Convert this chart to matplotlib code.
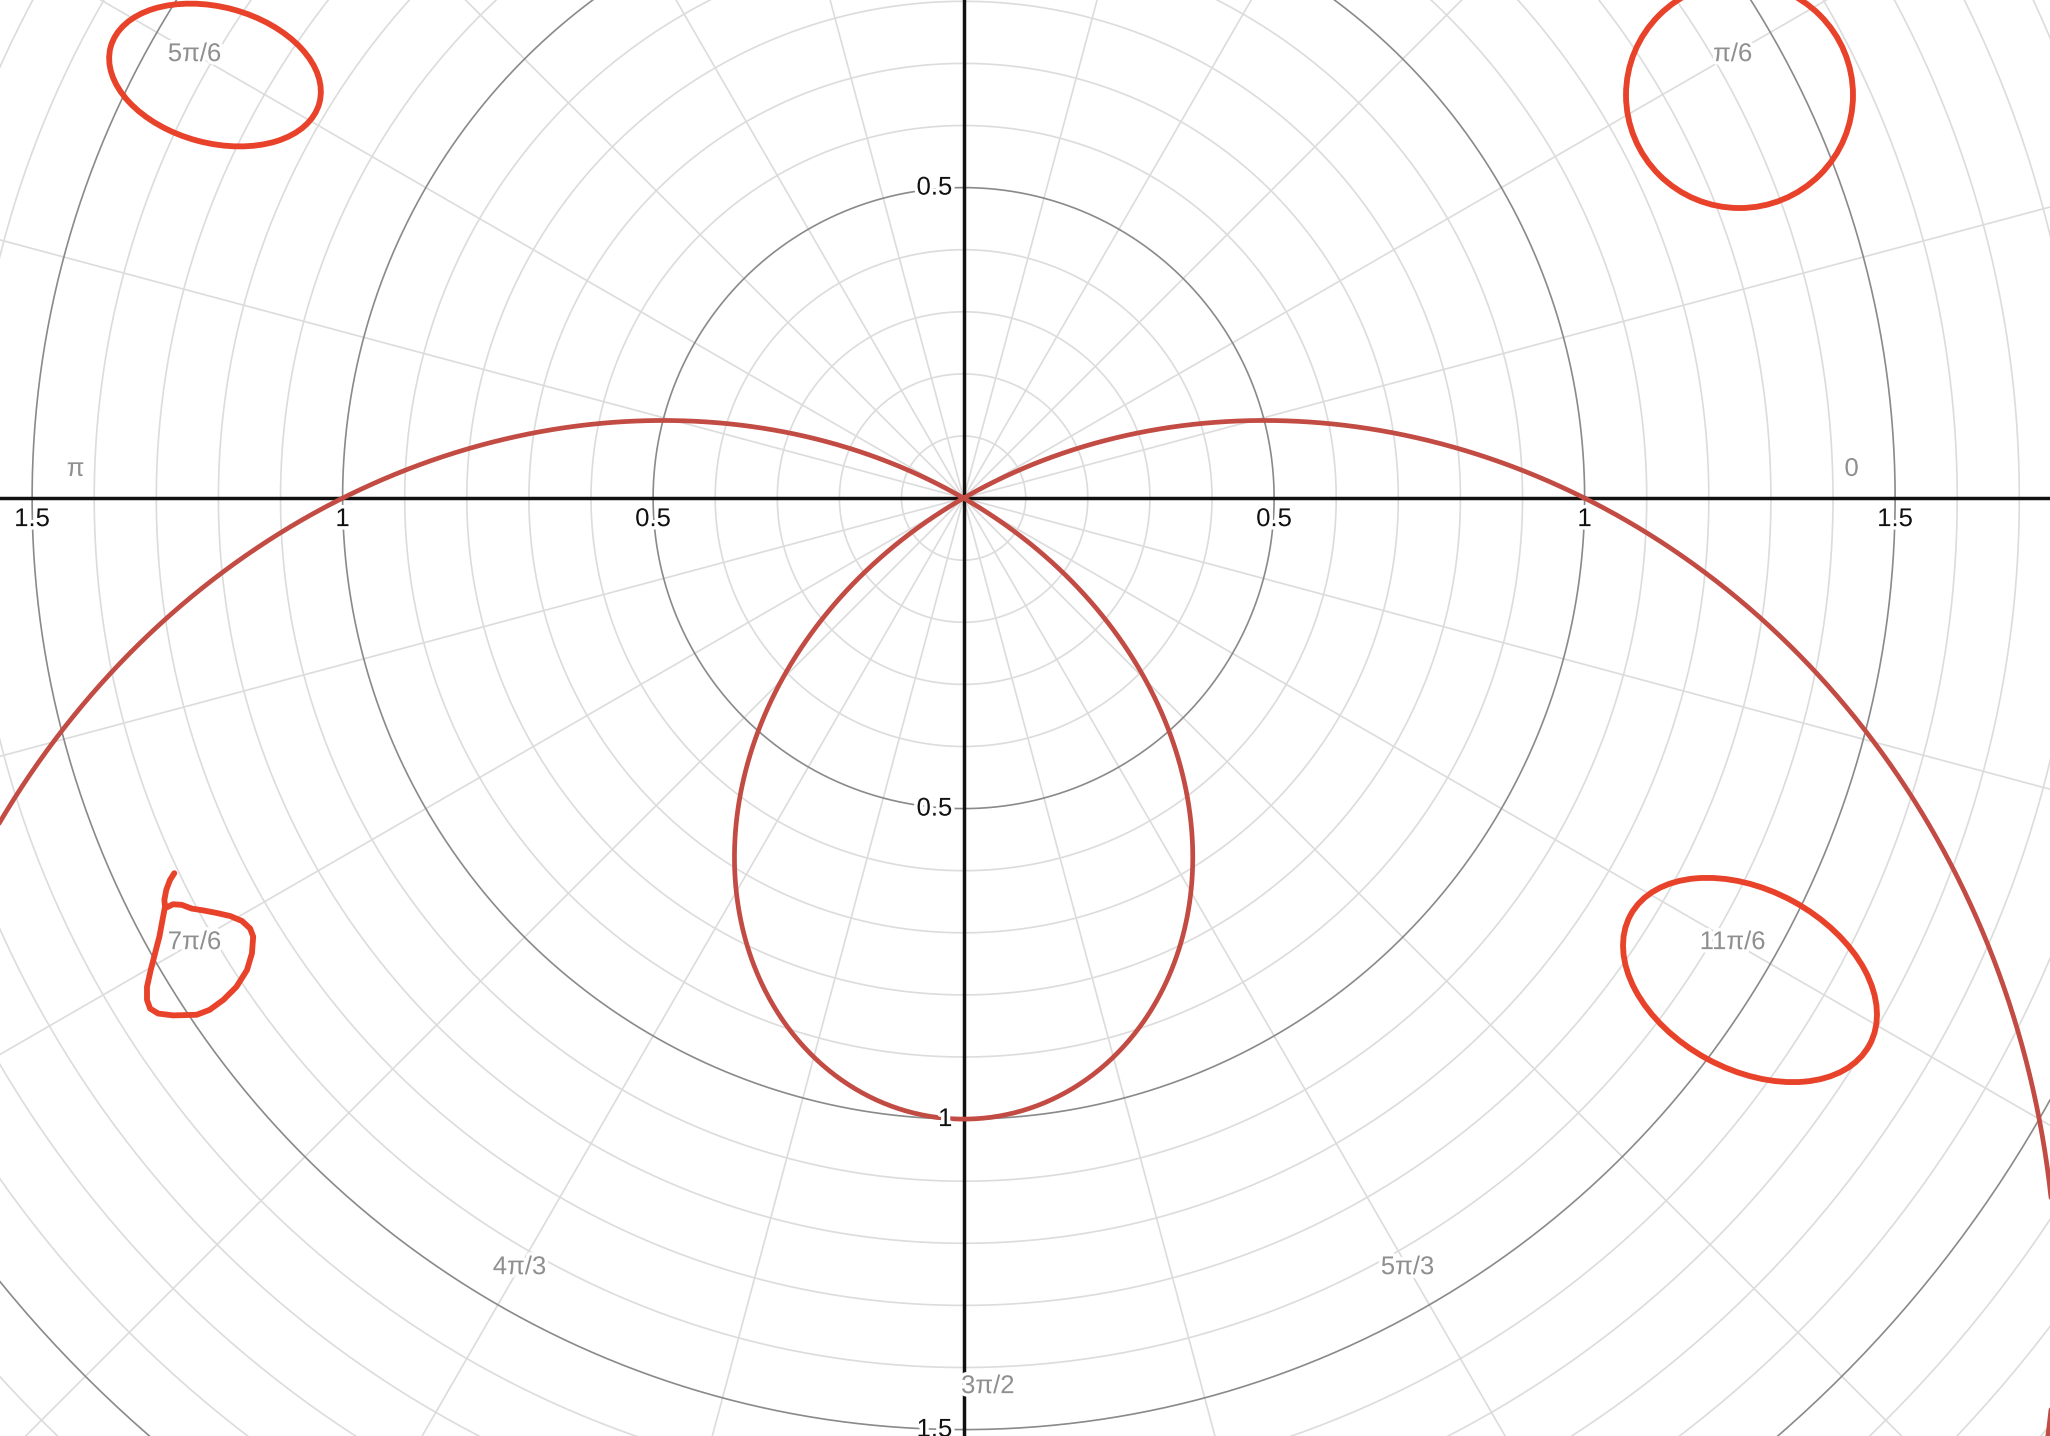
import numpy as np
import matplotlib
matplotlib.use("Agg")
import matplotlib.pyplot as plt
from matplotlib.patches import Ellipse
import matplotlib.patheffects as pe

# polar curve r = a + b*sin(theta)
r_const = 1.0
r_sin = -2.0

# grid
ring_step = 0.1
ring_major = 0.5
spoke_step_deg = 15

# axis tick labels (radius values)
x_ticks = [-1.5, -1.0, -0.5, 0.5, 1.0, 1.5]
x_tick_text = ["1.5", "1", "0.5", "0.5", "1", "1.5"]
y_ticks = [0.5, -0.5, -1.0, -1.5]
y_tick_text = ["0.5", "0.5", "1", "1.5"]

# angle labels
angle_multiples = [0, 1, 2, 3, 4, 5, 6, 7, 8, 9, 10, 11]
angle_text = ["0", "π/6", "π/3", "π/2", "2π/3", "5π/6", "π",
              "7π/6", "4π/3", "3π/2", "5π/3", "11π/6"]
angle_label_r = 1.43

# hand drawn marks: ellipses (cx, cy, w, h, angle)
ell_cx = [-1.2055, 1.2494, 1.2663]
ell_cy = [0.6813, 0.6491, -0.776]
ell_w = [0.348, 0.3655, 0.438]
ell_h = [0.219, 0.364, 0.289]
ell_ang = [-15, 0, -28.5]

# squiggle around 7pi/6
sq_x = [-1.271, -1.278, -1.284, -1.287, -1.286, -1.290, -1.295, -1.302, -1.309,
        -1.315, -1.315, -1.310, -1.297, -1.273, -1.235, -1.214, -1.192, -1.171,
        -1.154, -1.146, -1.144, -1.149, -1.162, -1.181, -1.203, -1.224, -1.243,
        -1.259, -1.273, -1.283]
sq_y = [-0.604, -0.615, -0.631, -0.647, -0.658, -0.679, -0.706, -0.733, -0.760,
        -0.787, -0.808, -0.822, -0.830, -0.833, -0.832, -0.824, -0.808, -0.787,
        -0.760, -0.733, -0.706, -0.693, -0.681, -0.673, -0.668, -0.664, -0.661,
        -0.655, -0.654, -0.659]

font = ["Liberation Sans", "DejaVu Sans"]
curve_col = "#c24b43"
mark_col = "#e8432a"

xlo, xhi = -1.5517, 1.7494
ylo, yhi = -1.5103, 0.8021

fig = plt.figure(figsize=(20.5, 14.36), dpi=100)
ax = fig.add_axes([0, 0, 1, 1])
ax.set_xlim(xlo, xhi)
ax.set_ylim(ylo, yhi)
ax.axis("off")

t = np.linspace(0, 2 * np.pi, 721)

# rings
for k in range(1, 26):
    rr = k * ring_step
    major = abs(rr / ring_major - round(rr / ring_major)) < 1e-6
    ax.plot(rr * np.cos(t), rr * np.sin(t),
            color="#8a8a8a" if major else "#dcdcdc",
            lw=1.2, zorder=2 if major else 1)

# spokes
for deg in range(0, 360, spoke_step_deg):
    a = np.radians(deg)
    ax.plot([0, 3 * np.cos(a)], [0, 3 * np.sin(a)], color="#dcdcdc", lw=1.2, zorder=1)

# axes
ax.axhline(0, color="#111111", lw=2.5, zorder=3)
ax.axvline(0, color="#111111", lw=2.5, zorder=3)

# curve
th = np.linspace(0, 2 * np.pi, 2000)
r = r_const + r_sin * np.sin(th)
ax.plot(r * np.cos(th), r * np.sin(th), color=curve_col, lw=3.4, zorder=4,
        solid_capstyle="round")

halo = [pe.withStroke(linewidth=5, foreground="white")]

for xv, s in zip(x_ticks, x_tick_text):
    ax.text(xv, -0.0145, s, ha="center", va="top", fontsize=18.5,
            family=font, color="#111111", zorder=5, path_effects=halo)
for yv, s in zip(y_ticks, y_tick_text):
    ax.text(-0.018, yv, s, ha="right", va="center", fontsize=18.5,
            family=font, color="#111111", zorder=5, path_effects=halo)

for m, s in zip(angle_multiples, angle_text):
    a = m * np.pi / 6
    px = angle_label_r * np.cos(a)
    py = angle_label_r * np.sin(a)
    if m % 3 == 0:
        # on an axis: shift off the line
        if m % 6 == 0:
            py += 0.047
        else:
            px += 0.039
    # only labels that fall inside the view
    if not (xlo < px < xhi and ylo < py < yhi):
        continue
    ax.text(px, py, s, ha="center", va="center", fontsize=18.5,
            family=font, color="#8f8f8f", zorder=5, path_effects=halo)

# hand drawn marks
for cx, cy, w, h, an in zip(ell_cx, ell_cy, ell_w, ell_h, ell_ang):
    ax.add_patch(Ellipse((cx, cy), w, h, angle=an, fill=False,
                         edgecolor=mark_col, lw=4.2, zorder=6))
ax.plot(sq_x, sq_y, color=mark_col, lw=4.2, zorder=6,
        solid_joinstyle="round", solid_capstyle="round")

fig.savefig("out.png", dpi=100)
